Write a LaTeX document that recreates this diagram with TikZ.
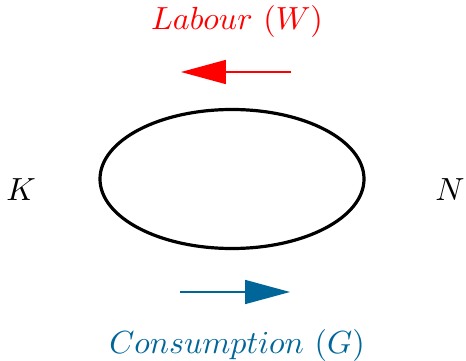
\documentclass[tikz,border=0pt]{standalone}
\usetikzlibrary{arrows.meta,shapes.geometric}
\definecolor{cblue}{RGB}{0,102,153}
\definecolor{cred}{RGB}{255,0,0}
\begin{document}
\begin{tikzpicture}[x=0.3125pt,y=-0.3125pt,
  flowarrow/.style={line width=0.4pt,-{Triangle[length=14pt,width=7.5pt]}},
  lbl/.style={inner sep=0pt}]
\useasboundingbox (0,0) rectangle (466,361);
\node[draw,line width=1pt,ellipse,minimum width=264*0.3125pt,minimum height=139*0.3125pt,inner sep=0pt] (loop) at (232,179) {};
\node[lbl] (K) at (21,190) {$K$};
\node[lbl] (N) at (450,190) {$N$};
\node[lbl,text=cred] (lab) at (237,22) {$Labour\ (W)$};
\node[lbl,text=cblue] (con) at (237,345) {$Consumption\ (G)$};
\coordinate (r1) at (291,72);
\coordinate (r2) at (181,72);
\coordinate (b1) at (180,292);
\coordinate (b2) at (290,292);
\draw[flowarrow,cred] (r1) -- (r2);
\draw[flowarrow,cblue] (b1) -- (b2);
\end{tikzpicture}
\end{document}
